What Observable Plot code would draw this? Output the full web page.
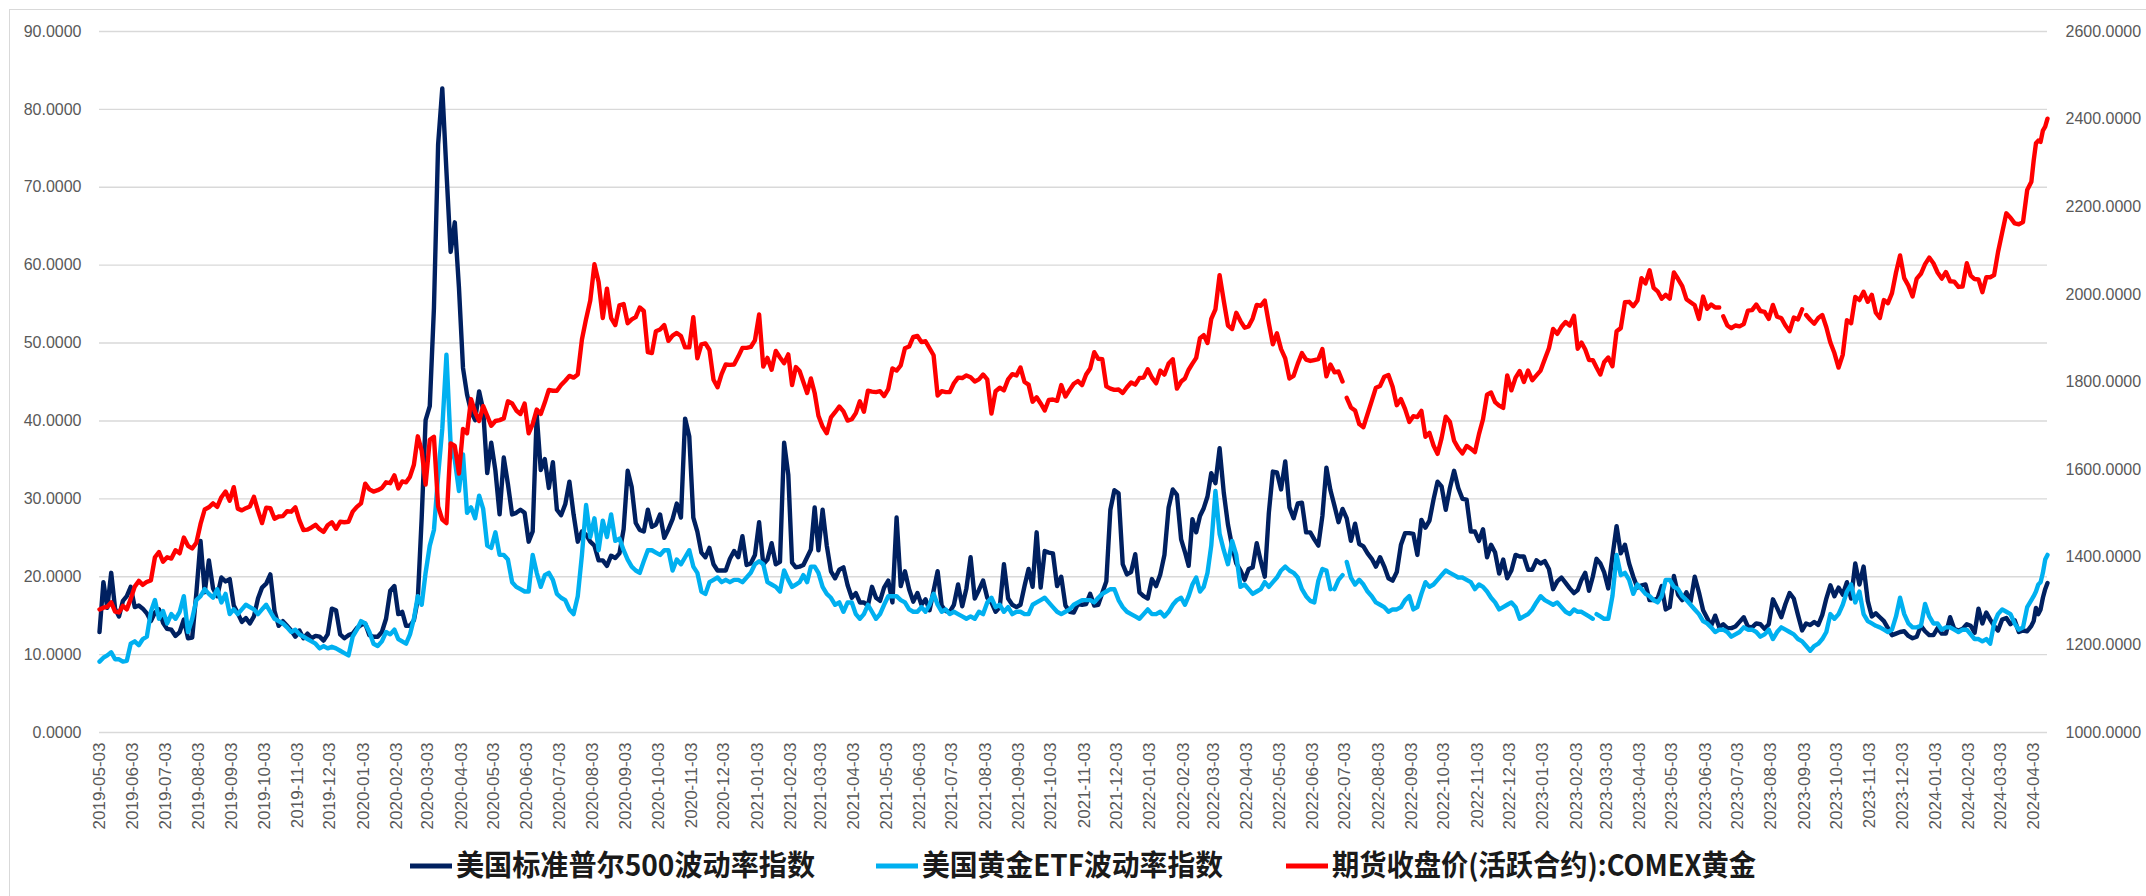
<!DOCTYPE html>
<html>
<head>
<meta charset="utf-8">
<script src="https://cdn.jsdelivr.net/npm/d3@7"></script>
<script src="https://cdn.jsdelivr.net/npm/@observablehq/plot@0.6"></script>
<style>
html, body { margin: 0; padding: 0; background: #fff; }
#wrap { position: relative; width: 2146px; height: 896px; overflow: hidden; background: #fff; }
#frame { position: absolute; left: 9px; top: 9px; width: 2400px; height: 1200px; border: 1px solid #d9d9d9; box-sizing: border-box; }
#chart { position: absolute; left: 0; top: 0; }
#legend { position: absolute; left: 0; top: 836px; }
</style>
</head>
<body>
<div id="wrap">
  <div id="frame"></div>
  <div id="chart"></div>
  <svg id="legend" width="2146" height="60"></svg>
</div>
<script>
// ---------- data ----------
const months = [
  "2019-05","2019-06","2019-07","2019-08","2019-09","2019-10","2019-11","2019-12",
  "2020-01","2020-02","2020-03","2020-04","2020-05","2020-06","2020-07","2020-08","2020-09","2020-10","2020-11","2020-12",
  "2021-01","2021-02","2021-03","2021-04","2021-05","2021-06","2021-07","2021-08","2021-09","2021-10","2021-11","2021-12",
  "2022-01","2022-02","2022-03","2022-04","2022-05","2022-06","2022-07","2022-08","2022-09","2022-10","2022-11","2022-12",
  "2023-01","2023-02","2023-03","2023-04","2023-05","2023-06","2023-07","2023-08","2023-09","2023-10","2023-11","2023-12",
  "2024-01","2024-02","2024-03","2024-04"
];

// 美国标准普尔500波动率指数 (values within each month, in date order)
const vixByMonth = [
  [12.9,19.3,16.0,20.5,15.9,14.9,16.9,17.5],
  [18.7,16.1,16.3,15.9,15.3,14.3,15.4,15.8],
  [14.1,13.3,13.2,12.4,12.9,14.5,12.1,12.2],
  [17.9,24.6,18.0,22.1,18.5,17.5,19.9,19.4],
  [19.7,16.3,15.3,14.2,14.7,14.0,14.9,17.2],
  [18.6,19.1,20.3,15.6,13.7,14.3,13.7,13.1],
  [12.3,13.1,12.1,12.7,12.1,12.4,12.3,11.8],
  [12.6,15.9,15.7,12.6,12.1,12.5,12.7,13.4],
  [13.8,14.0,12.5,12.3,12.3,12.9,14.6,18.2],
  [18.8,15.2,15.5,13.7,13.7,14.4,17.1,27.6],
  [40.1,41.9,54.5,75.5,82.7,72.0,61.7,65.5],
  [57.1,46.8,43.4,41.2,40.1,43.8,41.4,33.3],
  [37.2,33.6,28.0,35.3,31.9,28.0,28.2,28.6],
  [28.2,24.5,25.8,40.8,33.7,35.1,31.4,34.7],
  [28.6,27.9,29.3,32.2,28.0,24.5,25.8,25.4],
  [24.5,24.0,22.1,22.1,21.4,22.7,22.4,23.0],
  [26.1,33.6,31.5,26.9,26.0,25.8,28.6,26.4],
  [26.7,28.0,25.0,26.1,27.4,29.4,27.6,40.3],
  [38.0,27.6,25.8,23.1,22.5,23.7,21.6,20.8],
  [20.8,20.8,22.3,23.3,22.5,25.2,21.5,21.7],
  [22.8,27.0,21.6,22.2,24.3,21.6,21.9,37.2],
  [33.1,21.8,21.2,21.3,21.5,22.5,23.5,28.9],
  [23.4,28.6,24.0,20.7,19.8,20.9,21.2,18.9],
  [17.3,17.9,16.7,16.7,16.3,18.7,17.3,16.9],
  [18.6,19.5,16.7,27.6,18.8,20.7,18.4,16.8],
  [17.9,16.4,17.1,15.7,18.2,20.7,16.3,15.6],
  [15.5,16.4,19.0,16.2,18.5,22.5,17.2,18.3],
  [19.5,17.3,16.7,15.5,16.1,21.6,17.2,16.4],
  [16.1,16.4,18.8,21.0,18.7,25.7,18.6,23.3],
  [23.1,23.0,18.8,20.0,16.3,15.5,15.4,16.5],
  [16.4,16.5,17.8,16.3,16.4,17.9,19.4,28.6],
  [31.1,30.7,21.6,20.3,20.6,22.9,18.0,17.5],
  [17.2,19.7,18.8,20.3,22.8,28.9,31.2,30.5],
  [24.8,23.2,21.4,27.4,25.7,27.8,28.8,30.3],
  [33.3,32.0,36.5,30.8,26.7,23.9,21.7,20.8],
  [19.6,21.0,21.2,24.3,22.0,20.0,28.2,33.5],
  [33.4,31.2,34.8,28.9,27.5,29.4,29.5,25.7],
  [25.7,24.8,24.0,27.8,34.0,31.1,29.1,27.0],
  [28.7,27.5,24.6,26.8,24.2,23.9,23.0,22.3],
  [21.3,22.5,21.3,19.8,19.5,20.6,24.1,25.6],
  [25.6,25.5,22.8,27.3,26.3,27.2,29.9,32.2],
  [31.6,28.6,31.4,33.6,31.4,30.0,29.9,25.8],
  [25.8,24.6,26.1,22.5,24.1,23.1,20.4,22.2],
  [19.8,20.8,22.8,22.6,22.6,20.9,20.9,22.1],
  [21.7,22.0,21.0,18.4,19.4,19.9,19.2,18.5],
  [17.9,18.3,19.6,20.5,18.2,20.0,22.3,21.7],
  [20.6,18.5,22.6,26.5,23.0,24.1,21.7,20.0],
  [18.6,18.9,19.0,17.0,17.0,17.2,18.8,15.8],
  [16.1,20.1,17.7,17.0,18.0,16.8,20.0,18.0],
  [15.7,14.7,13.7,15.0,13.5,13.9,13.4,13.4],
  [13.6,14.2,14.8,13.6,13.5,14.0,13.9,13.3],
  [13.9,17.1,16.0,14.8,16.5,17.9,17.2,15.1],
  [13.1,14.0,13.8,14.2,13.8,15.1,17.2,18.9],
  [17.5,18.6,17.7,19.3,17.2,21.7,19.0,21.3],
  [16.9,14.9,15.3,14.8,14.3,13.4,12.5,12.7],
  [12.9,13.0,12.4,12.1,12.3,13.7,13.0,12.5],
  [12.5,13.4,12.7,12.7,14.8,13.3,13.1,13.3],
  [13.9,13.7,12.8,15.9,14.0,15.4,14.5,13.7],
  [13.1,14.5,14.7,13.9,14.4,12.9,13.1,13.0],
  [13.7,14.3,16.0,15.2,15.8,17.3,18.4,19.2]
];

// 美国黄金ETF波动率指数
const gvzByMonth = [
  [9.1,9.6,9.9,10.3,9.4,9.4,9.1,9.2],
  [11.4,11.7,11.2,12.0,12.3,15.5,17.0,14.6],
  [15.6,14.0,15.2,14.6,15.5,17.5,12.9,14.6],
  [17.0,17.5,18.4,17.8,17.3,18.4,16.7,17.8],
  [15.2,15.8,15.2,15.8,16.4,16.1,15.8,15.2],
  [15.8,16.4,15.5,14.6,14.3,14.0,13.5,12.9],
  [13.2,12.6,12.3,12.0,11.7,11.4,10.8,11.1],
  [10.8,11.0,10.8,10.5,10.2,9.9,12.3,13.2],
  [14.3,14.0,12.9,11.4,11.1,11.7,12.9,12.6],
  [13.2,12.0,11.7,11.4,12.6,14.6,17.5,16.4],
  [20.5,24.0,26.0,33.0,39.0,48.5,37.0,35.0],
  [31.0,35.7,28.2,28.9,27.5,30.4,28.7,24.0],
  [23.7,25.7,22.8,22.8,22.2,19.3,18.7,18.4],
  [18.1,18.1,22.8,20.5,18.7,20.2,20.5,19.6],
  [17.8,17.3,17.0,15.8,15.2,17.5,22.8,29.2],
  [25.1,27.5,23.4,27.2,25.1,28.0,24.6,24.9],
  [23.4,22.2,21.3,20.8,20.5,22.0,23.4,23.4],
  [23.1,22.8,23.4,23.4,20.8,22.2,21.6,22.5],
  [23.4,21.3,20.5,18.1,17.8,19.3,19.6,19.9],
  [19.3,19.6,19.3,19.6,19.6,19.3,19.9,20.5],
  [21.6,22.0,21.6,19.3,19.0,18.7,18.1,20.8],
  [19.6,18.7,19.0,19.3,20.2,19.3,21.3,21.3],
  [20.5,18.7,17.8,17.3,16.4,16.7,15.5,16.7],
  [16.7,15.2,14.6,15.2,16.4,15.5,14.6,15.2],
  [16.4,17.5,17.5,17.5,17.0,16.7,15.8,15.5],
  [15.5,16.1,15.5,16.4,17.8,16.4,15.5,15.8],
  [15.2,15.5,15.2,14.9,14.6,14.9,14.6,15.5],
  [15.2,16.7,17.3,16.1,16.4,15.5,16.1,15.2],
  [15.5,15.5,15.2,15.2,16.4,16.7,17.0,17.3],
  [16.7,16.1,15.5,15.2,15.5,15.8,16.4,16.7],
  [17.0,17.0,17.0,16.7,17.3,17.8,18.1,18.4],
  [18.4,17.0,16.1,15.5,15.2,14.9,14.6,15.2],
  [15.8,15.2,15.2,15.5,14.9,15.5,16.4,17.0],
  [17.3,16.4,17.5,19.0,19.9,18.1,18.7,20.5],
  [24.0,31.0,25.5,23.4,21.6,24.6,22.8,18.7],
  [19.0,18.4,17.8,18.1,18.4,19.3,18.7,19.3],
  [19.9,20.8,21.3,20.8,20.5,19.9,18.4,17.5],
  [16.9,16.7,19.5,21.0,20.8,18.4,18.4,19.6],
  [20.2,21.9,19.9,19.0,19.6,19.0,18.1,17.5],
  [16.7,16.4,16.1,15.5,15.8,15.8,16.1,17.0],
  [17.5,15.8,16.1,17.8,19.3,18.7,19.0,19.6],
  [20.2,20.8,20.5,20.2,19.9,19.9,19.6,19.3],
  [18.4,19.0,18.7,18.1,17.3,16.7,15.8,16.1],
  [16.4,16.7,16.1,14.6,14.9,15.2,15.8,16.7],
  [17.5,17.0,16.7,16.4,16.7,16.1,15.5,15.2],
  [15.8,15.5,15.5,15.2,14.9,14.6,15.2,14.9],
  [14.6,14.6,17.5,22.8,20.2,20.5,19.6,17.8],
  [19.0,18.4,17.8,17.5,17.0,16.7,17.5,19.6],
  [19.6,18.7,18.4,17.5,17.0,16.4,15.8,15.2],
  [14.3,14.0,13.5,12.9,13.2,13.2,12.9,12.3],
  [12.6,12.9,13.5,13.2,13.2,12.9,12.3,12.6],
  [13.2,12.0,12.9,13.5,13.2,12.9,12.6,12.0],
  [11.7,11.1,10.5,11.1,11.4,12.0,12.9,15.2],
  [14.6,15.2,16.4,18.1,19.0,16.7,18.1,15.2],
  [14.3,14.0,13.7,13.5,13.2,12.9,13.2,14.9],
  [17.3,15.2,14.0,13.5,13.5,13.7,16.5,14.9],
  [14.0,14.0,13.2,13.5,13.5,13.2,12.9,13.2],
  [13.2,12.6,12.0,12.0,11.7,12.0,11.4,14.0],
  [15.2,15.8,15.5,15.2,14.0,13.2,13.5,16.1],
  [17.0,17.5,18.1,19.0,19.3,20.5,22.2,22.8]
];

// 期货收盘价(活跃合约):COMEX黄金
const goldByMonth = [
  [1281,1285,1287,1297,1276,1274,1289,1281],
  [1305,1333,1346,1337,1344,1347,1400,1412],
  [1390,1400,1397,1416,1409,1445,1426,1420],
  [1433,1476,1509,1514,1523,1515,1537,1550],
  [1529,1560,1511,1507,1512,1516,1538,1506],
  [1478,1513,1512,1488,1493,1494,1505,1504],
  [1514,1484,1462,1463,1468,1474,1464,1458],
  [1473,1480,1465,1481,1480,1481,1504,1515],
  [1523,1568,1555,1550,1553,1558,1571,1569],
  [1587,1557,1573,1571,1584,1611,1676,1643],
  [1566,1668,1675,1516,1486,1478,1660,1654],
  [1591,1693,1683,1761,1731,1711,1745,1723],
  [1700,1711,1713,1717,1756,1751,1735,1727],
  [1751,1683,1704,1737,1727,1753,1782,1780],
  [1780,1793,1803,1814,1810,1817,1897,1944],
  [1986,2069,2028,1946,2013,1946,1930,1975],
  [1978,1934,1943,1948,1970,1962,1868,1866],
  [1916,1920,1930,1894,1906,1912,1905,1879],
  [1879,1948,1854,1886,1888,1873,1805,1788],
  [1818,1840,1839,1840,1858,1878,1878,1880],
  [1895,1954,1835,1855,1828,1871,1856,1843],
  [1863,1793,1834,1825,1800,1775,1808,1775],
  [1723,1698,1683,1719,1731,1744,1733,1712],
  [1715,1729,1756,1732,1780,1778,1777,1779],
  [1768,1784,1831,1826,1838,1877,1881,1903],
  [1905,1891,1893,1877,1861,1769,1779,1777],
  [1777,1797,1810,1809,1815,1811,1801,1806],
  [1817,1806,1728,1779,1787,1781,1806,1818],
  [1815,1833,1800,1794,1755,1765,1751,1735],
  [1759,1760,1757,1793,1767,1782,1796,1802],
  [1793,1817,1831,1868,1853,1852,1790,1785],
  [1782,1783,1775,1788,1799,1794,1809,1810],
  [1829,1810,1797,1826,1817,1842,1852,1785],
  [1801,1808,1828,1842,1855,1900,1907,1889],
  [1944,1966,2044,1985,1929,1921,1958,1939],
  [1924,1927,1945,1976,1974,1986,1934,1886],
  [1911,1875,1854,1808,1814,1842,1866,1851],
  [1848,1850,1852,1875,1813,1840,1822,1824],
  [1801,1764,1742,1735,1704,1697,1727,1757],
  [1787,1791,1812,1816,1789,1747,1761,1738],
  [1709,1722,1720,1734,1675,1684,1655,1636],
  [1672,1721,1709,1666,1649,1637,1654,1648],
  [1640,1681,1715,1771,1776,1754,1746,1741],
  [1815,1781,1810,1825,1800,1826,1804,1815],
  [1826,1852,1877,1921,1910,1926,1937,1929],
  [1951,1876,1890,1874,1850,1850,1833,1817],
  [1845,1856,1836,1916,1923,1982,1983,1973],
  [1986,2037,2025,2055,2015,2007,1990,1999],
  [1990,2050,2035,2019,1989,1982,1975,1944],
  [1995,1967,1977,1970,1970,1950,1929,1923],
  [1929,1927,1932,1963,1964,1977,1962,1960],
  [1944,1976,1949,1946,1929,1916,1947,1943],
  [1966,1953,1942,1933,1946,1953,1925,1890],
  [1866,1833,1862,1941,1934,1994,1987,2006],
  [1983,1999,1958,1946,1987,1980,2003,2050],
  [2089,2037,2020,1995,2036,2047,2069,2084],
  [2071,2050,2036,2051,2030,2029,2017,2018],
  [2071,2043,2035,2034,2005,2039,2039,2044],
  [2096,2141,2185,2175,2162,2160,2165,2238],
  [2257,2305,2345,2351,2348,2374,2383,2401]
];

// days with no value (line is broken there)
const goldGaps = ["2022-07-04", "2023-06-19", "2023-09-04"];
const gvzGaps = ["2022-06-20", "2022-07-04", "2023-02-20"];

const firstDate = "2019-05-03";
const lastDate = "2024-04-16";
const leftTicks = [0, 10, 20, 30, 40, 50, 60, 70, 80, 90];
const rightTicks = [1000, 1200, 1400, 1600, 1800, 2000, 2200, 2400, 2600];
const tickDay = "03";

const seriesNames = ["美国标准普尔500波动率指数", "美国黄金ETF波动率指数", "期货收盘价(活跃合约):COMEX黄金"];
const seriesColors = ["#002060", "#00B0F0", "#FF0000"];

// ---------- build ----------
const parse = s => new Date(s + "T00:00:00Z");
const start = parse(firstDate), end = parse(lastDate);

function monthSpan(i) {
  const [y, m] = months[i].split("-").map(Number);
  const s = i === 0 ? start : new Date(Date.UTC(y, m - 1, 1));
  const e = i === months.length - 1 ? end : new Date(Date.UTC(y, m, 1));
  return [s, e];
}
function toRows(byMonth, gaps) {
  const rows = [];
  byMonth.forEach((vals, i) => {
    const [s, e] = monthSpan(i);
    const last = i === months.length - 1;
    const step = (e - s) / (last ? vals.length - 1 : vals.length);
    vals.forEach((v, j) => rows.push({date: new Date(+s + j * step), value: v}));
  });
  gaps.forEach(g => rows.push({date: new Date(g + "T06:00:00Z"), value: NaN}));
  rows.sort((a, b) => a.date - b.date);
  return rows;
}

const yMin = leftTicks[0], yMax = leftTicks[leftTicks.length - 1];
const gMin = rightTicks[0], gMax = rightTicks[rightTicks.length - 1];
const goldToY = v => yMin + (v - gMin) * (yMax - yMin) / (gMax - gMin);
const yToGold = y => gMin + (y - yMin) * (gMax - gMin) / (yMax - yMin);

const vix = toRows(vixByMonth, []);
const gvz = toRows(gvzByMonth, gvzGaps);
const gold = toRows(goldByMonth, goldGaps).map(d => ({...d, y: goldToY(d.value)}));
const tickDates = months.map(m => parse(m + "-" + tickDay));

const lw = 4.4;
const chart = Plot.plot({
  width: 2146,
  height: 850,
  marginLeft: 99,
  marginRight: 99,
  marginTop: 31,
  marginBottom: 118,
  style: {fontFamily: "'Liberation Sans', Arial, sans-serif", fontSize: "16px", color: "#595959", background: "transparent", overflow: "visible"},
  x: {type: "utc", domain: [start, end]},
  y: {domain: [yMin, yMax]},
  marks: [
    Plot.gridY(leftTicks, {stroke: "#d9d9d9", strokeOpacity: 1, strokeWidth: 1.4}),
    Plot.axisY(leftTicks, {anchor: "left", tickSize: 0, tickPadding: 18, tickFormat: d => d.toFixed(4), fill: "#595959", label: null}),
    Plot.axisY(rightTicks.map(goldToY), {anchor: "right", tickSize: 0, tickPadding: 18, tickFormat: y => yToGold(y).toFixed(4), fill: "#595959", label: null}),
    Plot.axisX(tickDates, {anchor: "bottom", tickSize: 0, tickPadding: 10, tickRotate: -90, tickFormat: d3.utcFormat("%Y-%m-%d"), fill: "#595959", fontSize: 17, label: null}),
    Plot.lineY(vix, {x: "date", y: "value", stroke: seriesColors[0], strokeWidth: lw, strokeLinejoin: "round", strokeLinecap: "round"}),
    Plot.lineY(gvz, {x: "date", y: "value", stroke: seriesColors[1], strokeWidth: lw, strokeLinejoin: "round", strokeLinecap: "round"}),
    Plot.lineY(gold, {x: "date", y: "y", stroke: seriesColors[2], strokeWidth: lw, strokeLinejoin: "round", strokeLinecap: "round"})
  ]
});
document.getElementById("chart").appendChild(chart);

// ---------- legend ----------
const legend = d3.select("#legend");
const itemX = [410, 876, 1286];
const textW = [359, 301, 424];
const cy = 30;
seriesNames.forEach((name, i) => {
  legend.append("line")
    .attr("x1", itemX[i]).attr("x2", itemX[i] + 42)
    .attr("y1", cy).attr("y2", cy)
    .attr("stroke", seriesColors[i]).attr("stroke-width", 5);
  legend.append("text")
    .attr("x", itemX[i] + 46).attr("y", cy + 10)
    .attr("font-family", "'Noto Sans CJK SC', sans-serif")
    .attr("font-size", 29).attr("font-weight", 700)
    .attr("fill", "#1a1a1a")
    .attr("textLength", textW[i]).attr("lengthAdjust", "spacingAndGlyphs")
    .text(name);
});
</script>
</body>
</html>
